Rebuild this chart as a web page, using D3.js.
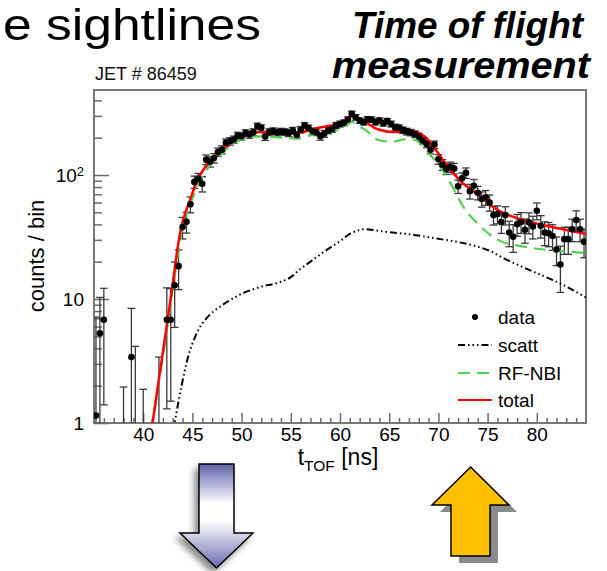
<!DOCTYPE html>
<html><head><meta charset="utf-8">
<script src="https://cdn.jsdelivr.net/npm/d3@7"></script>
<style>
html,body{margin:0;padding:0;background:#fff;}
svg{display:block;font-family:"Liberation Sans",Arial,Helvetica,sans-serif;}
</style></head><body>
<svg id="c" width="607" height="571"></svg>
<script>
// ---------- data ----------
const binCenters = [35.2,35.6,36.0,36.4,36.8,37.2,37.6,38.0,38.4,38.8,39.2,39.6,40.0,40.4,40.8,41.2,41.6,42.0,42.4,42.8,
 43.2,43.6,44.0,44.4,44.8,45.2,45.6,46.0,46.4,46.8,47.2,47.6,48.0,48.4,48.8,49.2,49.6,50.0,50.4,50.8,
 51.2,51.6,52.0,52.4,52.8,53.2,53.6,54.0,54.4,54.8,55.2,55.6,56.0,56.4,56.8,57.2,57.6,58.0,58.4,58.8,
 59.2,59.6,60.0,60.4,60.8,61.2,61.6,62.0,62.4,62.8,63.2,63.6,64.0,64.4,64.8,65.2,65.6,66.0,66.4,66.8,
 67.2,67.6,68.0,68.4,68.8,69.2,69.6,70.0,70.4,70.8,71.2,71.6,72.0,72.4,72.8,73.2,73.6,74.0,74.4,74.8,
 75.2,75.6,76.0,76.4,76.8,77.2,77.6,78.0,78.4,78.8,79.2,79.6,80.0,80.4,80.8,81.2,81.6,82.0,82.4,82.8,
 83.2,83.6,84.0,84.4,84.8];
const counts = [1.15,5.3,6.8,null,null,null,null,0.3,null,3.4,0.5,null,0.3,null,null,null,0.4,null,6.8,6.8,
 12.9,18.4,38,42,58,88,93,85,133,128,137,153,160,182,187,193,208,205,218,212,
 222,248,240,204,222,226,220,224,222,218,228,210,232,251,239,225,222,205,215,229,
 235,251,258,264,280,312,292,275,267,282,280,267,275,262,272,258,243,240,230,224,
 220,214,204,190,178,160,176,134,121,112,116,113,81,94,104,74,82,72,64,66,
 60,47.5,48.4,41.8,47.5,34.4,31.8,40.1,41.8,36.2,41.5,38.5,51.5,39,34.4,33.9,32.2,25.1,19.0,30.4,
 30.4,36.5,43.4,36.5,29];
const errors = [6,5,5.4,0,0,0,0,1.65,0,5,3.65,0,1.57,0,0,0,3,0,5.5,5.3,
 7,6.5,7.5,8,8.5,10,10,12,12,12,12,12,12,13,13,13,13,13,14,14,
 14,14,14,14,14,14,14,14,14,14,14,14,14,14,14,14,14,14,14,14,
 14,14,14,14,14,15,15,14,14,14,14,14,14,14,14,14,14,14,14,14,
 13,13,13,12,12,12,12,12,12,11,11,11,10,10,10,10,10,9,9,9,
 9,8,8,8,8,8,8,8,8,8,8,8,8,8,7.5,7.5,7.5,6.5,7.7,7.5,
 7.5,7.5,8,7.5,7.5];

const scattT = [43.05,43.2,43.9,44.6,45.3,45.8,46.3,47.2,48.1,49.2,50.2,51.2,52.2,53.2,53.9,55.0,55.9,57.0,58.0,59.0,60.0,61.0,62.0,62.6,63.5,65.0,66.8,68.5,70.2,72.0,73.5,75.2,76.9,78.5,80.3,82.5,85.0];
const scattV = [0.85,1.0,2.0,3.5,5.0,6.0,6.8,8.0,9.0,10.2,11.2,12.0,12.7,13.2,13.7,15.0,17.3,20.0,22.9,26.0,29.3,33.5,36.0,36.6,35.8,34.6,33.4,32.0,30.4,28.8,27.1,24.5,20.8,18.2,15.8,13.2,10.3];

const rfnbiT = [40.8,41.5,42.2,43.06,43.5,43.9,44.76,45.4,46.3,47.0,47.8,48.6,49.5,50.3,51.0,52.0,53.5,55.0,56.0,57.6,59.7,60.6,61.2,61.8,62.7,63.5,64.3,65.4,66.5,67.2,68.0,69.0,70.1,71.2,72.5,74.2,76.3,78.3,81.0,84.4,85.0];
const rfnbiV = [0.9,1.9,4.4,12.8,22,35,57,78,106,125,143,165,186,197,203,205,202,198,200,215,230,250,268,250,228,198,188,186,194,196,184,150,119,87,56,39,29.3,26.8,24.9,23.7,23.5];

const totalT = [40.7,40.93,41.5,42.2,42.7,43.06,43.47,43.9,44.3,44.76,45.4,46.3,47.0,47.8,48.6,49.5,50.3,51.0,52.0,53.5,55.0,56.0,57.6,59.7,60.6,61.2,61.8,62.7,63.5,64.1,65.4,66.3,67.3,68.1,68.8,69.8,70.8,72.2,74.2,75.9,78.3,81.0,85.0];
const totalV = [0.82,1.0,2.0,4.8,9.0,14.4,25,39,50,63,87,116,134,153,175,198,210,218,222,220,216,220,239,258,280,298,285,264,240,231,222,224,228,217,198,157,122,90,68,53,44,39,33.5];

const xMajorTicks = [40,45,50,55,60,65,70,75,80];
const yMajorTicks = [1,10,100];
const legendLabels = ["data","scatt","RF-NBI","total"];

// ---------- layout ----------
const L = 94, R = 586, T = 90, B = 423;
const svg = d3.select("#c");
const x = d3.scaleLinear().domain([35,85]).range([L,R]);
const y = d3.scaleLog().domain([1,484.9]).range([B,T]);
const frameColor = "#6b6b6b";

const defs = svg.append("defs");
defs.append("clipPath").attr("id","plotclip").append("rect")
  .attr("x",L).attr("y",T).attr("width",R-L).attr("height",B-T);

// titles
svg.append("text").attr("x",3).attr("y",40).attr("font-size",45)
  .attr("textLength",258).attr("lengthAdjust","spacingAndGlyphs").text("e sightlines");
svg.append("text").attr("x",583).attr("y",38).attr("text-anchor","end")
  .attr("font-size",37).attr("font-weight","bold").attr("font-style","italic")
  .attr("textLength",231).attr("lengthAdjust","spacingAndGlyphs").text("Time of flight");
svg.append("text").attr("x",590).attr("y",78).attr("text-anchor","end")
  .attr("font-size",37).attr("font-weight","bold").attr("font-style","italic")
  .attr("textLength",258).attr("lengthAdjust","spacingAndGlyphs").text("measurement");
svg.append("text").attr("x",95).attr("y",80).attr("font-size",18).attr("fill","#111").text("JET # 86459");

// axes
const xMinor = d3.range(36,85,1).filter(v=>v%5!==0);
const gx = svg.append("g").attr("transform",`translate(0,${B})`)
  .call(d3.axisBottom(x).tickValues(xMajorTicks).tickSize(-10).tickPadding(5).tickFormat(d3.format("d")));
const gxm = svg.append("g").attr("transform",`translate(0,${B})`)
  .call(d3.axisBottom(x).tickValues(xMinor).tickSize(-5).tickFormat(""));
const yMinor = [];
[1,10,100].forEach(dec=>{for(let m=2;m<=9;m++){const v=m*dec; if(v<484) yMinor.push(v);}});
const gy = svg.append("g").attr("transform",`translate(${L},0)`)
  .call(d3.axisLeft(y).tickValues(yMajorTicks).tickSize(-15).tickPadding(10).tickFormat(d=>String(d)));
const gym = svg.append("g").attr("transform",`translate(${L},0)`)
  .call(d3.axisLeft(y).tickValues(yMinor).tickSize(-8).tickFormat(""));
[gx,gxm,gy,gym].forEach(g=>{
  g.select(".domain").remove();
  g.selectAll(".tick line").attr("stroke",frameColor).attr("stroke-width",1.5);
  g.selectAll("text").attr("font-size",19).attr("fill","#000")
    .attr("font-family","'Liberation Sans',Arial,sans-serif");
});
gy.selectAll(".tick text").filter(d=>d===100).each(function(){
  const t = d3.select(this); t.text("");
  t.append("tspan").text("10");
  t.append("tspan").attr("dy","-0.45em").attr("font-size",13).text("2");
});

// frame
svg.append("rect").attr("x",L).attr("y",T).attr("width",R-L).attr("height",B-T)
  .attr("fill","none").attr("stroke",frameColor).attr("stroke-width",1.8);

// axis titles
svg.append("text").attr("transform",`translate(44,256) rotate(-90)`)
  .attr("text-anchor","middle").attr("font-size",22).text("counts / bin");
const xt = svg.append("text").attr("x",338).attr("y",465).attr("text-anchor","middle").attr("font-size",23);
xt.append("tspan").text("t");
xt.append("tspan").attr("font-size",15.5).attr("dy",6).text("TOF");
xt.append("tspan").attr("dy",-6).text(" [ns]");

// plot contents
const plot = svg.append("g").attr("clip-path","url(#plotclip)");
const line = d3.line().x(d=>x(d[0])).y(d=>y(d[1])).curve(d3.curveMonotoneX);

const pts = binCenters.map((t,i)=>({t, v:counts[i], e:errors[i]})).filter(d=>d.v!==null);
const eb = plot.append("g").attr("stroke","#3a3a3a").attr("stroke-width",1.3);
pts.forEach(d=>{
  const top = y(d.v + d.e);
  const lowV = d.v - d.e;
  const bot = lowV > 0.05 ? y(lowV) : B + 20;
  const cx = x(d.t);
  eb.append("line").attr("x1",cx).attr("x2",cx).attr("y1",top).attr("y2",bot);
  eb.append("line").attr("x1",cx-3.8).attr("x2",cx+3.8).attr("y1",top).attr("y2",top);
  if (lowV > 0.05) eb.append("line").attr("x1",cx-3.8).attr("x2",cx+3.8).attr("y1",bot).attr("y2",bot);
});

plot.append("path").datum(scattT.map((t,i)=>[t,scattV[i]])).attr("d",line)
  .attr("fill","none").attr("stroke","#000").attr("stroke-width",2)
  .attr("stroke-dasharray","7,3,1.5,3,1.5,3,1.5,3");
plot.append("path").datum(rfnbiT.map((t,i)=>[t,rfnbiV[i]])).attr("d",line)
  .attr("fill","none").attr("stroke","#52cf52").attr("stroke-width",2.2)
  .attr("stroke-dasharray","12,7");
plot.append("path").datum(totalT.map((t,i)=>[t,totalV[i]])).attr("d",line)
  .attr("fill","none").attr("stroke","#ff0000").attr("stroke-width",2.5);

plot.append("g").selectAll("circle").data(pts.filter(d=>d.v>=1)).join("circle")
  .attr("cx",d=>x(d.t)).attr("cy",d=>y(d.v)).attr("r",3.3).attr("fill","#000");

// legend
const lg = svg.append("g");
const rows = [317,345,373,400];
lg.append("circle").attr("cx",475).attr("cy",rows[0]).attr("r",3).attr("fill","#000");
lg.append("line").attr("x1",458).attr("x2",492).attr("y1",rows[1]).attr("y2",rows[1])
  .attr("stroke","#000").attr("stroke-width",2).attr("stroke-dasharray","7,3,1.5,3,1.5,3,1.5,3");
lg.append("line").attr("x1",458).attr("x2",492).attr("y1",rows[2]).attr("y2",rows[2])
  .attr("stroke","#52cf52").attr("stroke-width",2.2).attr("stroke-dasharray","12,7");
lg.append("line").attr("x1",458).attr("x2",492).attr("y1",rows[3]).attr("y2",rows[3])
  .attr("stroke","#ff0000").attr("stroke-width",2.2);
legendLabels.forEach((s,i)=>{
  lg.append("text").attr("x",498).attr("y",rows[i]+7).attr("font-size",19).text(s);
});

// arrows
const grad = defs.append("linearGradient").attr("id","bluegrad")
  .attr("gradientUnits","userSpaceOnUse").attr("x1",0).attr("y1",464).attr("x2",0).attr("y2",568);
[[0,"#6262aa"],[0.38,"#ffffff"],[0.55,"#ffffff"],[1,"#6a6ab0"]].forEach(s=>
  grad.append("stop").attr("offset",s[0]).attr("stop-color",s[1]));
const f = defs.append("filter").attr("id","soft").attr("x","-30%").attr("y","-30%").attr("width","160%").attr("height","160%");
f.append("feDropShadow").attr("dx",-4).attr("dy",5).attr("stdDeviation",3).attr("flood-color","#000").attr("flood-opacity",0.45);

const down = [[199,464],[234,464],[234,533],[253,533],[216.5,568],[180,533],[199,533]];
svg.append("path").attr("d",d3.line()(down)+"Z").attr("fill","url(#bluegrad)")
  .attr("stroke","#000").attr("stroke-width",1.5).attr("filter","url(#soft)");

const up = [[451,556],[451,505],[432,505],[470.7,467],[509,505],[490,505],[490,556]];
svg.append("path").attr("d",d3.line()(up.map(p=>[p[0]+8,p[1]+7]))+"Z").attr("fill","#8a8a8a");
svg.append("path").attr("d",d3.line()(up)+"Z").attr("fill","#ffc000")
  .attr("stroke","#000").attr("stroke-width",1.5);
</script>
</body></html>
